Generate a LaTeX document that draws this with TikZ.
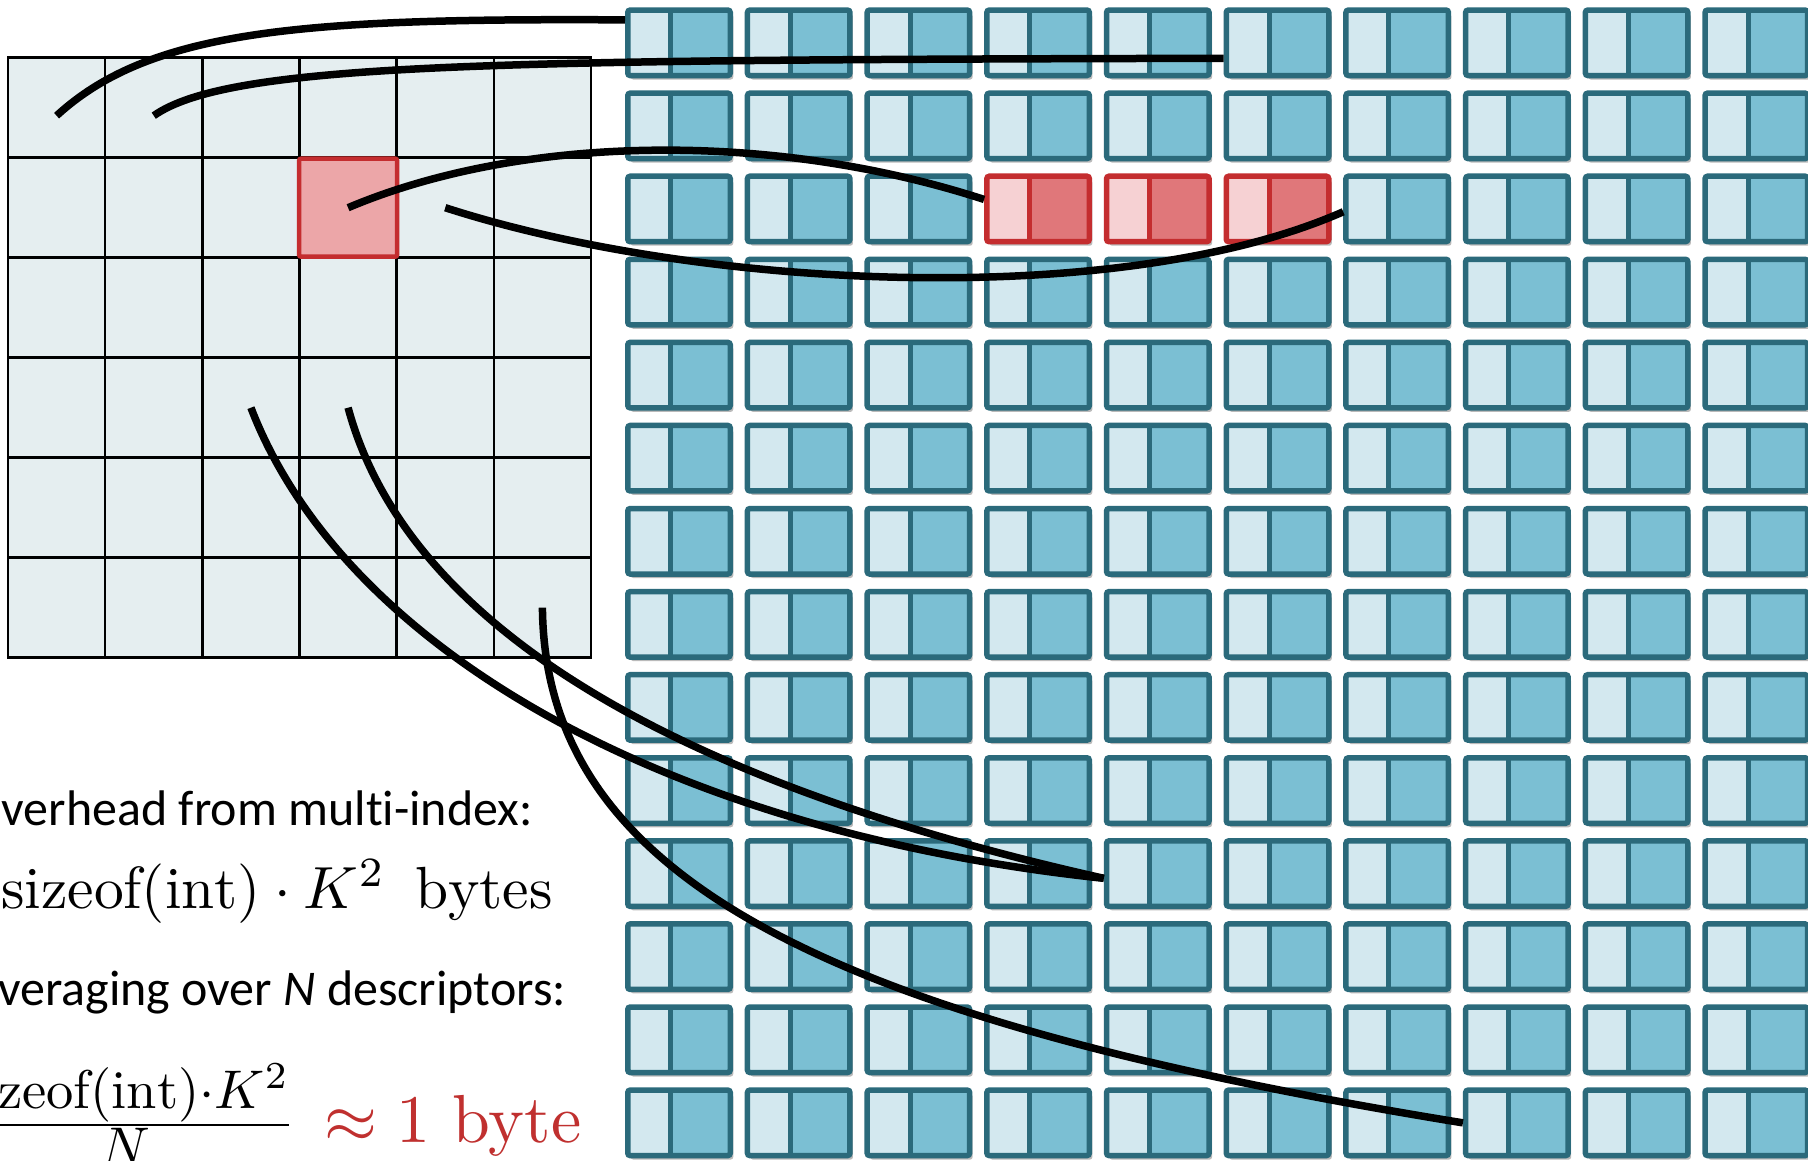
\documentclass[tikz,border=0pt]{standalone}
\usepackage{fontspec}
\newfontfamily\labelfont[Ligatures=NoCommon]{Carlito}
\usetikzlibrary{shadows}
\definecolor{listline}{HTML}{2B6A7B}
\definecolor{listdark}{HTML}{7BBFD3}
\definecolor{listlight}{HTML}{D3E8EF}
\definecolor{hitline}{HTML}{C42D2F}
\definecolor{hitdark}{HTML}{E0777A}
\definecolor{hitlight}{HTML}{F6D1D3}
\definecolor{gridfill}{HTML}{E5EEF0}
\definecolor{cellhit}{HTML}{ECA6A8}
\definecolor{textred}{HTML}{C0302F}
\tikzset{
    blockbox/.style={draw=#1line, fill=#1dark, line width=5.5pt, rounded corners=2.5pt,
        minimum width=102.5pt, minimum height=65.5pt, inner sep=0pt,
        drop shadow={shadow xshift=3pt, shadow yshift=-4pt, opacity=0.45, fill=black!60},
        path picture={
            \fill[#1light] (path picture bounding box.north west) rectangle ([xshift=43pt]path picture bounding box.south west);
            \draw[#1line, line width=5pt] ([xshift=43pt]path picture bounding box.north west) -- ([xshift=43pt]path picture bounding box.south west);
        }},
    cellbox/.style={draw=black, fill=gridfill, line width=2.6pt, minimum width=97.17pt,
        minimum height=100pt, inner sep=0pt, outer sep=0pt},
    hitcell/.style={draw=hitline, fill=cellhit, line width=4.5pt, rounded corners=2pt,
        minimum width=98pt, minimum height=98pt, inner sep=0pt},
    pointer/.style={line width=7.5pt},
    textline/.style={font=\labelfont\fontsize{50}{60}\selectfont, inner sep=0pt, anchor=base west},
    mathline/.style={inner sep=0pt, transform shape},
}
\begin{document}
\begin{tikzpicture}[x=1pt, y=-1pt]
    \path[use as bounding box, fill=white] (0,0) rectangle (1808,1161);
    \foreach \r in {0,...,5}
        \foreach \c in {0,...,5}
            \node[cellbox] (cell-\r-\c) at ({56.58+97.17*\c},{107.7+100*\r}) {};
    \node[hitcell] (query) at (cell-1-3) {};
    \foreach \r in {0,...,13}
        \foreach \c in {0,...,9} {
            \pgfmathtruncatemacro{\hit}{and(\r==2,and(\c>2,\c<6))}
            \ifnum\hit=1 \def\tone{hit}\else\def\tone{list}\fi
            \node[blockbox=\tone] (list-\r-\c) at ({679+119.7*\c},{42.8+83.08*\r}) {};
        }
    \draw[pointer] ([yshift=-8pt]cell-0-0.center) .. controls (150,30) and (300,18) .. (list-0-0.157);
    \draw[pointer] ([yshift=-8pt]cell-0-1.center) .. controls (230,62) and (500,60) .. (list-0-5.196);
    \draw[pointer] (query.center) .. controls (520,135) and (770,130) .. (list-2-3.170);
    \draw[pointer] (cell-1-4.center) .. controls (700,290) and (1120,310) .. (list-2-6.183);
    \draw[pointer] (cell-3-2.center) .. controls (340,640) and (650,830) .. (list-10-4.185);
    \draw[pointer] (cell-3-3.center) .. controls (400,600) and (620,770) .. (list-10-4.185);
    \draw[pointer] (cell-5-5.center) .. controls (545,880) and (830,1020) .. (list-13-7.west);
    \node[textline] (overhead) at (-31.5,825) {Overhead from multi-index:};
    \node[mathline, anchor=base west, scale=5.95] (cost) at (0,908)
        {$\mathrm{sizeof}(\mathrm{int})\cdot K^2\ \,\mathrm{bytes}$};
    \node[textline] (averaging) at (-30,1005) {Averaging over \textit{N} descriptors:};
    \node[mathline, anchor=base east, scale=5.45] (share) at (297,1139)
        {$\frac{\textstyle\mathrm{sizeof}(\mathrm{int}){\cdot}K^2}{\textstyle N}$};
    \node[mathline, anchor=base west, scale=6.8, text=textred] (onebyte) at (323,1142)
        {$\approx 1$ byte};
\end{tikzpicture}
\end{document}
